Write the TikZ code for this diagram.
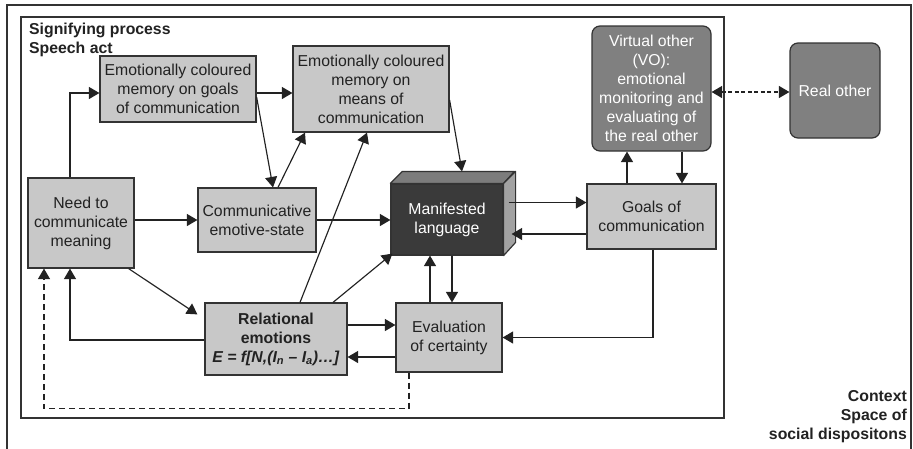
\documentclass[tikz,border=0pt]{standalone}
\usepackage{fontspec}
\setmainfont{Liberation Sans}
\usetikzlibrary{arrows.meta,calc}
\definecolor{boxgray}{HTML}{C8C8C8}
\definecolor{edgegray}{HTML}{333333}
\definecolor{vogray}{HTML}{808080}
\definecolor{mldark}{HTML}{3A3A3A}
\definecolor{mltop}{HTML}{7C7C7C}
\definecolor{mlside}{HTML}{A2A2A2}
\definecolor{inktext}{HTML}{222222}

\begin{document}
\begin{tikzpicture}[x=1pt,y=-1pt,
  font=\fontsize{15.8}{19}\selectfont,
  box/.style={draw=edgegray, line width=1.2pt, fill=boxgray, align=center,
    inner sep=0pt, text=inktext},
  otherbox/.style={box, fill=vogray, rounded corners=8pt, text=white},
  tip/.tip={Triangle[length=10.5pt,width=12pt]},
  arr/.style={line width=1.15pt, draw=inktext, -tip},
  biarr/.style={line width=1.15pt, draw=inktext, dash pattern=on 4pt off 2.5pt, tip-tip},
  frame/.style={draw=edgegray, line width=1.4pt},
  label/.style={inner sep=0pt, text=inktext, font=\fontsize{15.8}{19}\selectfont\bfseries}
]
\useasboundingbox (0,0) rectangle (913,448);
\fill[white] (0,0) rectangle (913,448);

% outer context frame and inner speech-act frame
\draw[frame] (7,455) -- (7,5) -- (911,5) -- (911,455);
\draw[frame] (21,17) rectangle (724,418);

\node[label, anchor=north west, align=left] (title) at (29,23)
  {Signifying process\\Speech act};
\node[label, anchor=north east, align=right] (context) at (907,390)
  {Context\\Space of\\social dispositons};

% boxes
\node[box, minimum width=156pt, minimum height=66pt] (goalmem) at (178,89)
  {Emotionally coloured\\memory on goals\\of communication};
\node[box, minimum width=156pt, minimum height=86pt] (meanmem) at (371,89)
  {Emotionally coloured\\memory on\\means of\\communication};
\node[box, minimum width=106pt, minimum height=90pt] (need) at (81,223)
  {Need to\\communicate\\meaning};
\node[box, minimum width=118pt, minimum height=64pt] (comm) at (257,220)
  {Communicative\\emotive-state};
\node[box, minimum width=129pt, minimum height=65pt] (goals) at (651.5,216.5)
  {Goals of\\communication};
\node[otherbox, minimum width=119pt, minimum height=125pt] (vo) at (651.5,88.5)
  {Virtual other\\(VO):\\emotional\\monitoring and\\evaluating of\\the real other};
\node[otherbox, minimum width=90pt, minimum height=95pt] (real) at (835,90.5)
  {Real other};
\node[box, minimum width=142pt, minimum height=72pt, font=\fontsize{15.8}{19}\selectfont\bfseries] (rel) at (276,339)
  {Relational\\emotions\\\textit{E = f[N,(I\textsubscript{n} – I\textsubscript{a})…]}};
\node[box, minimum width=106pt, minimum height=69pt] (eval) at (449,337.5)
  {Evaluation\\of certainty};

% manifested language as a block
\node[box, fill=mldark, text=white, minimum width=112pt, minimum height=71pt] (ml) at (447,219.5)
  {Manifested\\language};
\filldraw[fill=mltop, draw=edgegray, line width=1.2pt, line join=round]
  (ml.north west) -- ++(12,-12) -- ++(112,0) -- (ml.north east) -- cycle;
\filldraw[fill=mlside, draw=edgegray, line width=1.2pt, line join=round]
  (ml.north east) -- ++(12,-12) -- ++(0,71) -- (ml.south east) -- cycle;

% connectors
\draw[arr] ([xshift=-11pt]need.north) |- ([yshift=-4pt]goalmem.west);
\draw[arr] ([yshift=-4pt]goalmem.east) coordinate (p2) -- (p2 -| meanmem.west);
\draw[arr] ([yshift=-8pt]goalmem.east) -- ([xshift=16pt]comm.north);
\draw[arr] ([xshift=21pt]comm.north) -- ([xshift=-66pt]meanmem.south);
\draw[arr] (need.east |- comm.west) -- (comm.west);
\draw[arr] (comm.east) -- (comm.east -| ml.west);
\draw[arr] ([xshift=24pt]rel.north) -- ([xshift=-4pt]meanmem.south);
\draw[arr] ([xshift=57pt]rel.north) -- ([xshift=2pt,yshift=2pt]ml.south west);
\draw[arr] ([yshift=-11pt]meanmem.east) -- ([xshift=15pt,yshift=12pt]ml.north);
\draw[arr] ([xshift=5pt,yshift=17pt]ml.east) coordinate (p10) -- (p10 -| goals.west);
\draw[arr] ([yshift=-17.5pt]goals.west) coordinate (p11) -- ($(p11 -| ml.east)+(8,0)$);
\draw[arr] ([xshift=-24.5pt]goals.north) -- ([xshift=-24.5pt]vo.south);
\draw[arr] ([xshift=30.5pt]vo.south) -- ([xshift=30.5pt]goals.north);
\draw[arr] ([xshift=1.5pt]goals.south) |- (eval.east);
\draw[arr] ([xshift=-19pt]eval.north) coordinate (p15) -- (p15 |- ml.south);
\draw[arr] ([xshift=5pt]ml.south) coordinate (p16) -- (p16 |- eval.north);
\draw[arr] ([yshift=14pt]rel.east) coordinate (p17) -- (p17 -| eval.west);
\draw[arr] ([yshift=-19.5pt]eval.west) coordinate (p18) -- (p18 -| rel.east);
\draw[arr] ([xshift=-6pt]need.south east) -- ([xshift=-7pt,yshift=-12pt]rel.north west);
\draw[arr] ([yshift=-1pt]rel.west) -| ([xshift=-11pt]need.south);
\draw[arr, dash pattern=on 6pt off 4pt] ([xshift=-40pt]eval.south) -- ++(0,36) -| ([xshift=-37pt]need.south);
\draw[biarr] ([yshift=-3.5pt]vo.east) coordinate (p22) -- (p22 -| real.west);
\end{tikzpicture}
\end{document}
